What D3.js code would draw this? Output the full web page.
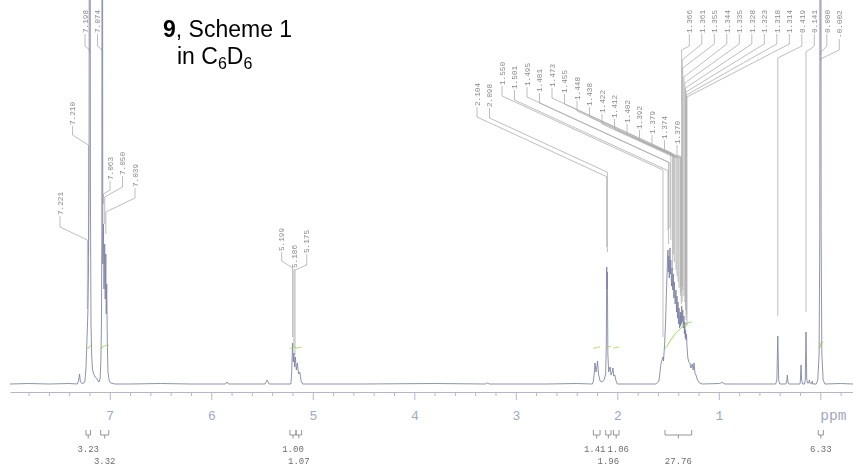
<!DOCTYPE html>
<html><head><meta charset="utf-8">
<script src="https://cdn.jsdelivr.net/npm/d3@7"></script>
<style>body{margin:0;background:#fff}svg{display:block}</style>
</head><body><svg id="c" width="853" height="470"></svg>
<script>
// ---------------- DATA ----------------
// spectrum trace: [ppm, intensity]
const aromaticTrace = [[7.983,0],[7.80,0.5],[7.60,0],[7.40,0.5],[7.32,0],[7.308,3],[7.298,10],[7.290,3],[7.275,0.5],[7.255,1],[7.245,3],[7.235,15],[7.228,35],[7.221,55],[7.215,75],[7.210,110],[7.204,200],[7.198,1000],[7.191,200],[7.185,60],[7.178,28],[7.170,14],[7.158,10],[7.145,7],[7.13,6],[7.12,4],[7.105,2],[7.095,6],[7.088,22],[7.082,60],[7.078,150],[7.074,1000],[7.069,120],[7.063,160],[7.057,95],[7.050,140],[7.045,85],[7.039,130],[7.035,70],[7.030,100],[7.024,40],[7.018,12],[7.005,3],[6.99,1],[6.95,0]];
const olefinTrace = [[6.80,0],[6.50,0.5],[6.20,0],[5.86,0],[5.845,2],[5.83,0],[5.60,0],[5.47,0],[5.45,4],[5.43,0],[5.30,0],[5.215,0],[5.208,12],[5.199,41],[5.192,22],[5.186,31],[5.179,17],[5.172,27],[5.162,14],[5.152,21],[5.140,10],[5.128,12],[5.115,3],[5.10,0],[4.50,0],[3.80,0.5],[3.30,0],[3.28,1],[3.26,0],[2.70,0],[2.40,0.5],[2.25,0]];
const aliphaticTrace = [[2.245,0],[2.235,3],[2.226,12],[2.220,21],[2.210,12],[2.200,18],[2.195,23],[2.185,10],[2.170,3],[2.150,2],[2.130,4],[2.115,10],[2.108,40],[2.104,117],[2.101,95],[2.098,112],[2.093,30],[2.085,12],[2.078,15],[2.070,17],[2.062,9],[2.050,12],[2.043,16],[2.035,8],[2.025,9],[2.012,3],[2.00,0],[1.80,0],[1.62,0],[1.59,3],[1.57,20],[1.550,27],[1.545,23],[1.535,38],[1.525,60],[1.515,95],[1.505,125],[1.501,134],[1.497,112],[1.493,128],[1.488,106],[1.481,136],[1.477,110],[1.473,124],[1.466,98],[1.460,116],[1.455,94],[1.448,110],[1.443,86],[1.438,102],[1.430,80],[1.422,94],[1.417,72],[1.412,88],[1.407,66],[1.402,82],[1.397,60],[1.392,76],[1.386,56],[1.379,72],[1.376,58],[1.374,68],[1.370,60],[1.366,78],[1.361,62],[1.355,74],[1.350,56],[1.344,68],[1.339,50],[1.335,62],[1.330,46],[1.328,54],[1.323,44],[1.318,50],[1.314,38],[1.305,26],[1.295,22],[1.285,21],[1.275,16],[1.262,20],[1.252,14],[1.244,21],[1.235,11],[1.225,9],[1.21,4],[1.19,1],[1.16,0],[1.00,0.5],[0.965,1.5],[0.94,0],[0.60,0]];
const tmsTrace = [[0.55,0],[0.44,0],[0.428,4],[0.419,48],[0.410,4],[0.40,0],[0.34,0],[0.331,2],[0.325,9],[0.319,2],[0.31,0],[0.20,0],[0.196,4],[0.190,19],[0.184,4],[0.175,0],[0.155,0],[0.148,5],[0.141,52],[0.134,5],[0.125,1],[0.114,1],[0.108,4],[0.102,1],[0.085,0],[0.079,3],[0.073,0],[0.04,0],[0.025,4],[0.012,30],[0.005,150],[0.000,1000],[-0.001,900],[-0.002,1000],[-0.008,150],[-0.015,30],[-0.028,4],[-0.045,0],[-0.20,0.5],[-0.322,0]];

// peak picking labels (ppm), in four label groups
const peaksAromatic = [7.221, 7.210, 7.198, 7.074, 7.063, 7.050, 7.039];
const peaksOlefin = [5.199, 5.186, 5.175];
const peaksAliphatic = [2.104, 2.098, 1.550, 1.501, 1.495, 1.481, 1.473, 1.455, 1.448, 1.438, 1.422, 1.412, 1.402, 1.392, 1.379, 1.374, 1.370];
const peaksHighField = [1.366, 1.361, 1.355, 1.344, 1.335, 1.328, 1.323, 1.318, 1.314, 0.419, 0.141, 0.000, -0.002];

// integrals
const integralRanges = [[7.235,7.19],[7.09,7.01],[5.225,5.165],[5.165,5.11],[2.236,2.17],[2.114,2.062],[2.039,1.983],[1.53,1.267],[0.02,-0.03]];
const integralValues = [3.23, 3.32, 1.00, 1.07, 1.41, 1.96, 1.06, 27.76, 6.33];

// axis
const majorTicks = [7, 6, 5, 4, 3, 2, 1, 0];
const minorTicks = d3.range(-2, 40).map(i => +(i * 0.2).toFixed(1)).filter(v => Math.abs(v - Math.round(v)) > 1e-6);
const axisUnit = "ppm";

// title
const titleBold = "9";
const titleRest = ", Scheme 1";
const subtitleParts = [["in C", false], ["6", true], ["D", false], ["6", true]];

// ---------------- LAYOUT (positions only) ----------------
const labelLayout = [
  { peaks: peaksAromatic, x0: 60, gap: 20,
    rows: [[215,227,240],[125,135,145],[33,46,50],[33,46,50],[180,190,194],[175,187,197],[187,198,212]] },
  { peaks: peaksOlefin, x0: 281.7, gap: 6,
    rows: [[251,261,268],[268,270,271],[253,265,270]] },
  { peaks: peaksAliphatic, x0: 477, gap: 20, slope: 0.46,
    rows: [[106],[107],[85],[89],[86],[92],[87],[93],[100],[106],[113],[118],[123],[129],[134],[139],[144]] },
  { peaks: peaksHighField, x0: 689.3, gap: 20,
    rows: [[33,46,50],[33,44,60],[33,44,68],[33,44,77],[33,44,83],[33,44,88],[33,44,92],[33,44,95],[33,44,97],[33,46,58],[33,46,52],[33,46,53],[38,50,59]] }
];
const integralLabelDx = [0, 0, 0, 0, -2, 0, 2, 0, 0];

// ---------------- DRAW ----------------
const svg = d3.select('#c');
const x = d3.scaleLinear().domain([7.983, -0.322]).range([10, 853]);
const y = d3.scaleLinear().domain([0, 384]).range([384, 0]);

const spectrum = aromaticTrace.concat(olefinTrace, aliphaticTrace, tmsTrace);
const asc = spectrum.slice().sort((a, b) => a[0] - b[0]);
const bis = d3.bisector(d => d[0]).left;
function hAt(p) {
  let i = bis(asc, p);
  if (i <= 0) return asc[0][1];
  if (i >= asc.length) return asc[asc.length - 1][1];
  const a = asc[i - 1], b = asc[i];
  const t = (p - a[0]) / (b[0] - a[0]);
  return a[1] + t * (b[1] - a[1]);
}

// axis
const axisColor = '#b3b7c9';
const gMinor = svg.append('g').attr('transform', 'translate(0,392)')
  .call(d3.axisBottom(x).tickValues(minorTicks.filter(v => v < 7.98 && v > -0.32)).tickSize(4).tickFormat('').tickSizeOuter(0));
const gMajor = svg.append('g').attr('transform', 'translate(0,392)')
  .call(d3.axisBottom(x).tickValues(majorTicks).tickSize(8).tickFormat(d => d === 0 ? '' : d3.format('d')(d)).tickSizeOuter(0));
gMajor.select('.domain').remove();
svg.selectAll('.domain').attr('stroke', axisColor).attr('stroke-width', 1);
svg.selectAll('.tick line').attr('stroke', axisColor).attr('stroke-width', 1);
gMajor.selectAll('.tick text').attr('y', 27.5).attr('dy', 0)
  .attr('fill', '#a2a7c0').style('font-family', "'Liberation Mono', monospace").style('font-size', '13px');
svg.append('text').attr('x', x(0)).attr('y', 392 + 27.5).text(axisUnit)
  .attr('fill', '#a2a7c0').style('font-family', "'Liberation Mono', monospace").style('font-size', '14.5px');

// peak label leaders and texts
const gLab = svg.append('g').style('opacity', 0.999);
const spacing = 12.5;
labelLayout.forEach(grp => {
  grp.peaks.forEach((p, i) => {
    const r = grp.rows[i];
    const tx = grp.x0 + spacing * i;
    const tb = r[0];
    const sb = r.length > 1 ? r[1] : tb + 11;
    const px = x(p);
    const bend = r.length > 2 ? r[2] : sb + grp.slope * (px - tx);
    const h = hAt(p);
    let endY = h >= 384 ? bend + 2 : y(h) - grp.gap;
    if (endY < bend + 2) endY = bend + 2;
    gLab.append('path')
      .attr('d', d3.line()([[tx, tb + 1], [tx, sb], [px, bend], [px, endY]]))
      .attr('fill', 'none').attr('stroke', '#adadad').attr('stroke-width', 0.8);
    gLab.append('text')
      .attr('transform', `translate(${tx},${tb}) rotate(-90)`)
      .attr('dy', '0.35em')
      .text(p.toFixed(3))
      .attr('fill', '#8a8a8a')
      .style('font-family', "'Liberation Mono', monospace").style('font-size', '7.7px');
  });
});

// spectrum
svg.append('path').datum(spectrum)
  .attr('d', d3.line().x(d => x(d[0])).y(d => y(d[1])))
  .attr('fill', 'none').attr('stroke', '#7b81a2').attr('stroke-width', 0.85);

// integrals
const yInt = d3.scaleLinear().domain([0, 30]).range([348.3, 348.3 - 28.5]);
const gInt = svg.append('g').style('opacity', 0.999);
integralRanges.forEach((rg, k) => {
  const n = 60;
  const pts = d3.range(n + 1).map(j => rg[0] + (rg[1] - rg[0]) * j / n);
  const hs = pts.map(hAt);
  const cum = [0];
  for (let j = 1; j <= n; j++) cum.push(cum[j - 1] + (hs[j] + hs[j - 1]) / 2);
  const tot = cum[n] || 1;
  const curve = pts.map((p, j) => [x(p), yInt(integralValues[k] * cum[j] / tot)]);
  gInt.append('path').attr('d', d3.line()(curve))
    .attr('fill', 'none').attr('stroke', '#93cf2f').attr('stroke-width', 1);

  // bracket under axis
  const x1 = x(rg[0]), x2 = x(rg[1]), xc = (x1 + x2) / 2;
  gInt.append('path')
    .attr('d', `M${x1},430V435H${x2}V430M${xc},435V438.5`)
    .attr('fill', 'none').attr('stroke', '#8a8a8a').attr('stroke-width', 0.9);
  gInt.append('text')
    .attr('x', xc + integralLabelDx[k]).attr('y', k % 2 === 0 ? 452 : 463.5)
    .attr('text-anchor', 'middle')
    .text(integralValues[k].toFixed(2))
    .attr('fill', '#6e6e6e')
    .style('font-family', "'Liberation Mono', monospace").style('font-size', '9px');
});

// title
const t1 = svg.append('text').attr('x', 163).attr('y', 37)
  .style('font-family', "'Liberation Sans', Arial, sans-serif").style('font-size', '23px').attr('fill', '#000');
t1.append('tspan').style('font-weight', 'bold').text(titleBold);
t1.append('tspan').text(titleRest);
const t2 = svg.append('text').attr('x', 177).attr('y', 64)
  .style('font-family', "'Liberation Sans', Arial, sans-serif").style('font-size', '23px').attr('fill', '#000');
let prevSub = false;
subtitleParts.forEach(([s, sub]) => {
  const ts = t2.append('tspan').text(s);
  if (sub && !prevSub) ts.attr('dy', 5).style('font-size', '16px');
  else if (!sub && prevSub) ts.attr('dy', -5);
  prevSub = sub;
});
</script>
</body></html>
